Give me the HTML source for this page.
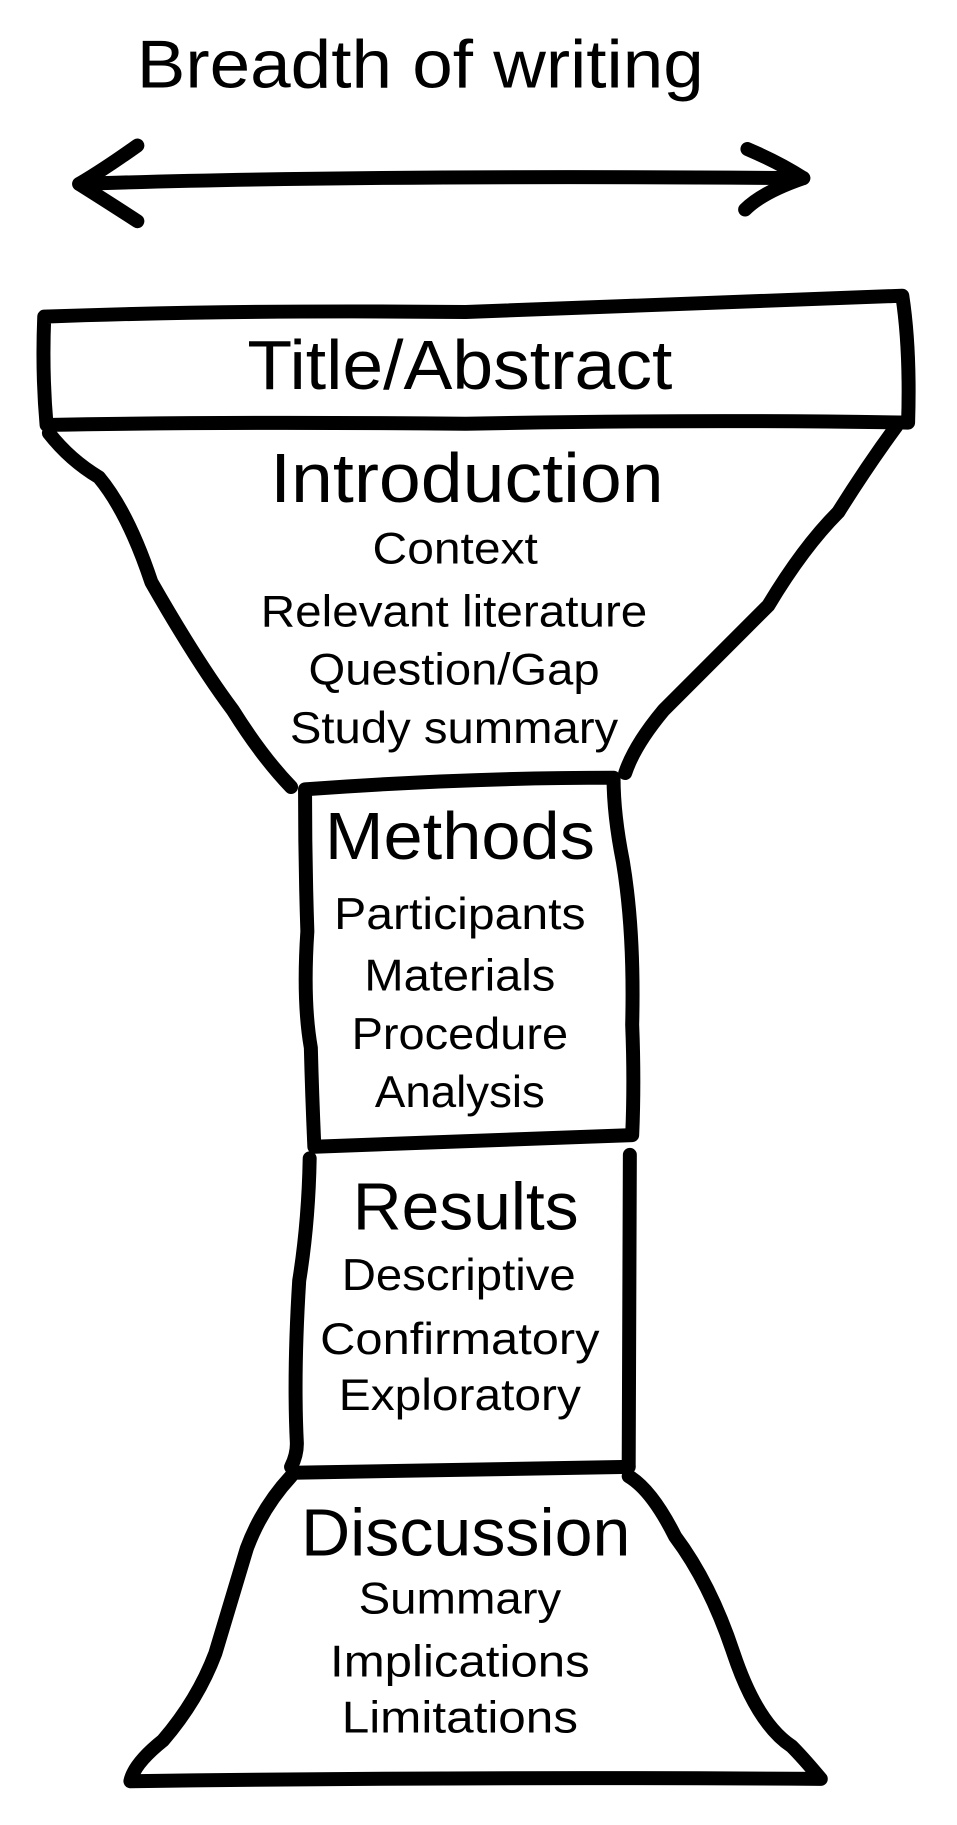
<!DOCTYPE html>
<html><head><meta charset="utf-8"><style>
html,body{margin:0;padding:0;background:#fff;}
svg{display:block;}
text{font-family:"Liberation Sans","DejaVu Sans",sans-serif;fill:#000;text-anchor:middle;}
</style></head><body>
<svg width="957" height="1825" viewBox="0 0 822 1567.6" preserveAspectRatio="none" xmlns="http://www.w3.org/2000/svg">
<g fill="none" stroke="#000" stroke-width="12" stroke-linecap="round" stroke-linejoin="round">
<path d="M68,158 Q300,150 690,153"/>
<path d="M118,125 Q90,145 68,158 Q95,175 118,190"/>
<path d="M642,128 Q670,140 690,153 Q655,165 640,180"/>
<path d="M38,272 Q200,266 400,268 Q600,260 775,254 Q782,300 780,363 Q600,360 400,364 Q200,362 40,365 Q36,320 38,272 Z"/>
<path d="M42,372 Q60,395 85,410 Q110,440 130,500 Q170,570 200,610 Q225,650 250,676"/>
<path d="M770,366 Q745,400 720,440 Q690,470 660,520 Q610,570 570,610 Q545,640 537,664"/>
<path d="M262,678 Q400,668 527,668 Q527,700 535,740 Q545,800 543,880 Q545,930 543,975 Q400,980 270,985 Q268,940 267,900 Q260,860 264,800 Q262,740 262,678"/>
<path d="M266,995 Q265,1050 257,1100 Q252,1180 255,1240 Q255,1250 250,1260"/>
<path d="M541,992 Q541,1100 540,1260"/>
<path d="M252,1265 Q400,1262 540,1260"/>
<path d="M250,1268 Q225,1295 212,1330 Q200,1370 185,1420 Q170,1460 140,1495 Q115,1515 112,1530 Q400,1526 705,1528 Q690,1510 680,1500 Q650,1480 630,1420 Q610,1360 580,1320 Q560,1280 540,1268"/>
</g>
<g lengthAdjust="spacingAndGlyphs">
<text x="361" y="75" font-size="58" textLength="487" lengthAdjust="spacingAndGlyphs">Breadth of writing</text>
<text x="395" y="334" font-size="60" textLength="365" lengthAdjust="spacingAndGlyphs">Title/Abstract</text>
<text x="401" y="431" font-size="60" textLength="338" lengthAdjust="spacingAndGlyphs">Introduction</text>
<g font-size="38">
<text x="391" y="484" textLength="142" lengthAdjust="spacingAndGlyphs">Context</text>
<text x="390" y="538" textLength="332" lengthAdjust="spacingAndGlyphs">Relevant literature</text>
<text x="390" y="588" textLength="250" lengthAdjust="spacingAndGlyphs">Question/Gap</text>
<text x="390" y="638" textLength="282" lengthAdjust="spacingAndGlyphs">Study summary</text>
</g>
<text x="395" y="738" font-size="57" textLength="232" lengthAdjust="spacingAndGlyphs">Methods</text>
<g font-size="38">
<text x="395" y="798" textLength="216" lengthAdjust="spacingAndGlyphs">Participants</text>
<text x="395" y="851" textLength="164" lengthAdjust="spacingAndGlyphs">Materials</text>
<text x="395" y="901" textLength="186" lengthAdjust="spacingAndGlyphs">Procedure</text>
<text x="395" y="951" textLength="146" lengthAdjust="spacingAndGlyphs">Analysis</text>
</g>
<text x="400" y="1056" font-size="57" textLength="194" lengthAdjust="spacingAndGlyphs">Results</text>
<g font-size="38">
<text x="394" y="1108" textLength="201" lengthAdjust="spacingAndGlyphs">Descriptive</text>
<text x="395" y="1163" textLength="240" lengthAdjust="spacingAndGlyphs">Confirmatory</text>
<text x="395" y="1211" textLength="208" lengthAdjust="spacingAndGlyphs">Exploratory</text>
</g>
<text x="400" y="1336" font-size="57" textLength="283" lengthAdjust="spacingAndGlyphs">Discussion</text>
<g font-size="38">
<text x="395" y="1386" textLength="174" lengthAdjust="spacingAndGlyphs">Summary</text>
<text x="395" y="1440" textLength="223" lengthAdjust="spacingAndGlyphs">Implications</text>
<text x="395" y="1488" textLength="203" lengthAdjust="spacingAndGlyphs">Limitations</text>
</g>
</g>
</svg>
</body></html>
